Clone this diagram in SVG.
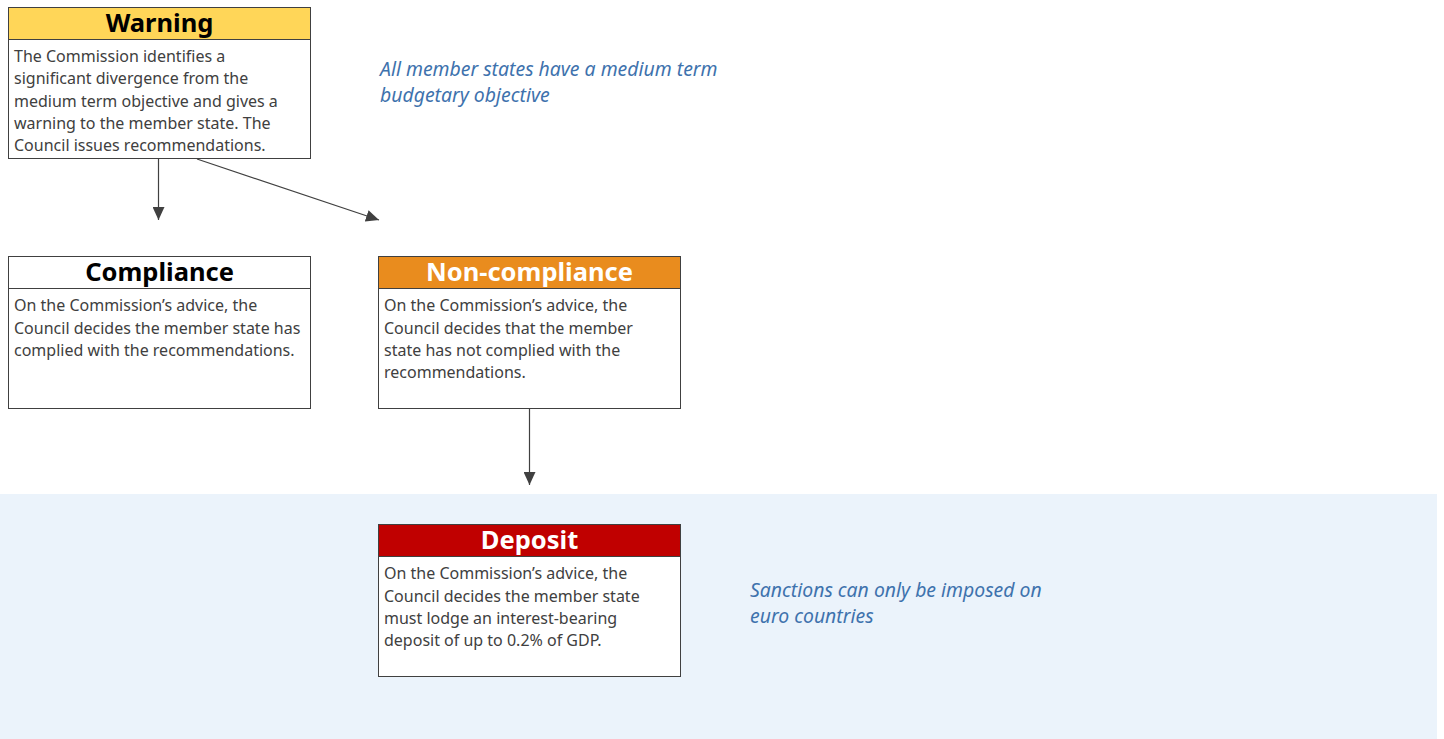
<svg xmlns="http://www.w3.org/2000/svg" width="1444" height="739" viewBox="0 0 1444 739">
  <defs>
    <marker id="arrow" viewBox="0 0 13 12" refX="13" refY="6" markerWidth="13" markerHeight="12" markerUnits="userSpaceOnUse" orient="auto">
      <path d="M0,0 L13,6 L0,12 Z" fill="#404040"/>
    </marker>
    <style>
      .box { fill: #ffffff; stroke: #404040; stroke-width: 1; }
      .head { stroke: #404040; stroke-width: 1; }
      .title { font-family: "Noto Sans", "Open Sans", sans-serif; font-weight: bold; font-size: 25.5px; text-anchor: middle; }
      .body { font-family: "Noto Sans", "Open Sans", sans-serif; font-size: 16px; fill: #404040; }
      .note { font-family: "Noto Sans", "Open Sans", sans-serif; font-style: italic; font-size: 19.4px; fill: #3e72ad; }
      .conn { stroke: #404040; stroke-width: 1.2; fill: none; marker-end: url(#arrow); }
    </style>
  </defs>

  <rect x="0" y="0" width="1444" height="739" fill="#ffffff"/>
  <!-- euro-area band -->
  <rect id="euro-band" x="0" y="494" width="1437" height="245" fill="#ebf3fb"/>

  <g id="warning">
    <rect class="box" x="8.5" y="7.5" width="302" height="151"/>
    <rect class="head" x="8.5" y="7.5" width="302" height="32" fill="#ffd658"/>
    <text class="title" x="159.5" y="31.5" fill="#000000">Warning</text>
    <text class="body">
      <tspan x="14" y="62">The Commission identifies a</tspan>
      <tspan x="14" y="84">significant divergence from the</tspan>
      <tspan x="14" y="107">medium term objective and gives a</tspan>
      <tspan x="14" y="129">warning to the member state. The</tspan>
      <tspan x="14" y="151">Council issues recommendations.</tspan>
    </text>
  </g>

  <g id="compliance">
    <rect class="box" x="8.5" y="256.5" width="302" height="152"/>
    <rect class="head" x="8.5" y="256.5" width="302" height="32" fill="#ffffff"/>
    <text class="title" x="159.5" y="281" fill="#000000">Compliance</text>
    <text class="body">
      <tspan x="14" y="311">On the Commission’s advice, the</tspan>
      <tspan x="14" y="334">Council decides the member state has</tspan>
      <tspan x="14" y="356">complied with the recommendations.</tspan>
    </text>
  </g>

  <g id="non-compliance">
    <rect class="box" x="378.5" y="256.5" width="302" height="152"/>
    <rect class="head" x="378.5" y="256.5" width="302" height="32" fill="#e98c1e"/>
    <text class="title" x="529.5" y="281" fill="#ffffff">Non-compliance</text>
    <text class="body">
      <tspan x="384" y="311">On the Commission’s advice, the</tspan>
      <tspan x="384" y="334">Council decides that the member</tspan>
      <tspan x="384" y="356">state has not complied with the</tspan>
      <tspan x="384" y="378">recommendations.</tspan>
    </text>
  </g>

  <g id="deposit">
    <rect class="box" x="378.5" y="524.5" width="302" height="152"/>
    <rect class="head" x="378.5" y="524.5" width="302" height="32" fill="#c00000"/>
    <text class="title" x="529.5" y="548.5" fill="#ffffff">Deposit</text>
    <text class="body">
      <tspan x="384" y="579">On the Commission’s advice, the</tspan>
      <tspan x="384" y="602">Council decides the member state</tspan>
      <tspan x="384" y="624">must lodge an interest-bearing</tspan>
      <tspan x="384" y="646">deposit of up to 0.2% of GDP.</tspan>
    </text>
  </g>

  <g id="notes">
    <text class="note"><tspan x="380" y="76">All member states have a medium term</tspan><tspan x="380" y="102">budgetary objective</tspan></text>
    <text class="note"><tspan x="750" y="597">Sanctions can only be imposed on</tspan><tspan x="750" y="623">euro countries</tspan></text>
  </g>

  <g id="connectors">
    <line class="conn" x1="158.5" y1="159" x2="158.5" y2="220"/>
    <line class="conn" x1="197" y1="159" x2="379" y2="220"/>
    <line class="conn" x1="529.5" y1="409" x2="529.5" y2="485"/>
  </g>
</svg>
